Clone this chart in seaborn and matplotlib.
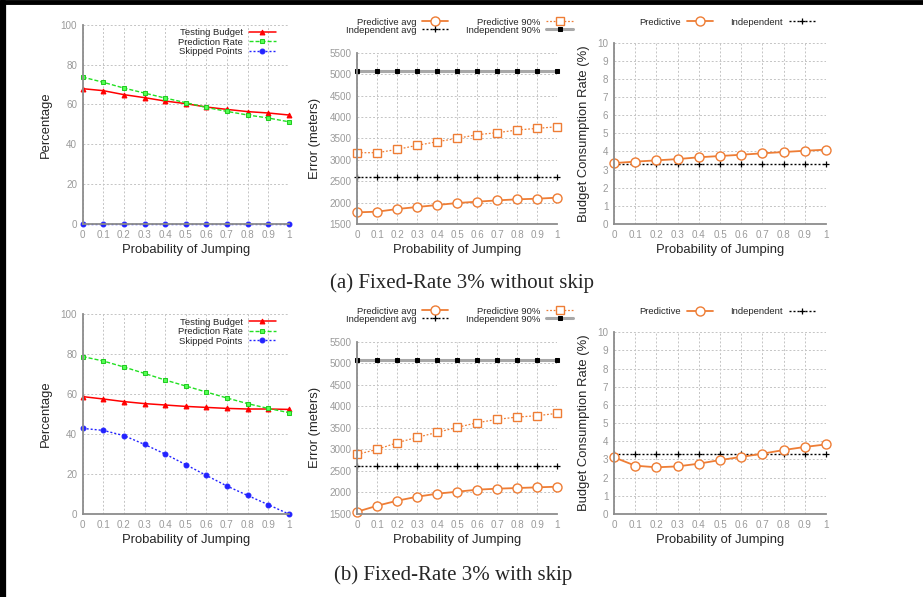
import matplotlib
matplotlib.use('Agg')
import matplotlib.pyplot as plt
import seaborn as sns
from matplotlib.lines import Line2D

sns.set_style('white')
plt.rcParams['font.family'] = ['Liberation Sans', 'DejaVu Sans']

# data
jump = [0, 0.1, 0.2, 0.3, 0.4, 0.5, 0.6, 0.7, 0.8, 0.9, 1]
jump_labels = ['0', '0.1', '0.2', '0.3', '0.4', '0.5', '0.6', '0.7', '0.8', '0.9', '1']

# (a) without skip
a_budget = [67.9, 66.9, 64.9, 63.4, 61.7, 60.4, 58.7, 57.5, 56.4, 55.7, 54.7]
a_pred_rate = [73.7, 71.1, 68.2, 65.7, 63.2, 60.9, 58.5, 56.5, 54.7, 53.2, 51.3]
a_skipped = [0, 0, 0, 0, 0, 0, 0, 0, 0, 0, 0]
a_pred_avg = [1772, 1788, 1850, 1897, 1944, 1990, 2021, 2052, 2076, 2091, 2115]
a_pred_90 = [3165, 3165, 3243, 3337, 3422, 3500, 3586, 3632, 3695, 3733, 3772]
a_ind_avg = [2605] * 11
a_ind_90 = [5070] * 11
a_pred_bcr = [3.36, 3.44, 3.51, 3.58, 3.68, 3.75, 3.82, 3.90, 3.97, 4.04, 4.10]
a_ind_bcr = [3.33] * 11

# (b) with skip
b_budget = [58.7, 57.5, 56.2, 55.2, 54.5, 53.8, 53.3, 52.8, 52.5, 52.5, 52.3]
b_pred_rate = [78.7, 76.5, 73.5, 70.3, 67.0, 64.0, 61.0, 58.0, 55.2, 52.8, 50.7]
b_skipped = [42.8, 41.8, 39.2, 34.8, 30.0, 24.7, 19.3, 14.0, 9.3, 4.7, 0]
b_pred_avg = [1554, 1693, 1809, 1902, 1972, 2018, 2065, 2088, 2103, 2119, 2134]
b_pred_90 = [2885, 3001, 3156, 3280, 3396, 3512, 3620, 3697, 3751, 3782, 3837]
b_ind_avg = [2606] * 11
b_ind_90 = [5065] * 11
b_pred_bcr = [3.12, 2.66, 2.57, 2.62, 2.77, 2.97, 3.14, 3.32, 3.52, 3.69, 3.83]
b_ind_bcr = [3.32] * 11

ORANGE = '#ee7d35'
TICK_GRAY = '#9a9a9a'
DOT = (0, (1.44, 1.44))
W, H = 923, 597


def px_axes(fig, x0, x1, y0, y1):
    return fig.add_axes([x0 / W, 1 - y1 / H, (x1 - x0) / W, (y1 - y0) / H])


def style(ax, ylim, yticks, ylabel, ylabel_pad):
    ax.set_xlim(0, 1)
    ax.set_ylim(*ylim)
    ax.set_xticks(jump)
    ax.set_xticklabels(jump_labels)
    ax.set_yticks(yticks)
    ax.grid(True, ls=(0, (2, 2)), color='#c4c4c4', lw=0.7)
    ax.set_axisbelow(True)
    for s in ['top', 'right']:
        ax.spines[s].set_visible(False)
    for s in ['left', 'bottom']:
        ax.spines[s].set_color('#8c8c8c')
        ax.spines[s].set_linewidth(1.3)
    ax.tick_params(length=0, labelsize=7.1, colors=TICK_GRAY, pad=4)
    ax.set_xlabel('Probability of Jumping', fontsize=9.4, labelpad=3)
    ax.set_ylabel(ylabel, fontsize=9.4, labelpad=ylabel_pad)
    for ln in ax.get_lines():
        ln.set_clip_on(False)


def pct_panel(ax, budget, pred_rate, skipped):
    sns.lineplot(x=jump, y=budget, ax=ax, color='#ff0000', lw=1.1, ls='-',
                 marker='^', ms=3.5, mec='#ff0000', label='Testing Budget')
    sns.lineplot(x=jump, y=pred_rate, ax=ax, color='#22e022', lw=1.0, ls=(0, (2.9, 1.44)),
                 marker='s', ms=3.5, mfc='#55ff55', mec='#22cc22', label='Prediction Rate')
    sns.lineplot(x=jump, y=skipped, ax=ax, color='#2222ff', lw=1.0, ls=DOT,
                 marker='o', ms=3.5, mec='#2222ff', label='Skipped Points')
    style(ax, (0, 100), range(0, 101, 20), 'Percentage', 6)
    ax.legend(loc='upper right', bbox_to_anchor=(0.97, 1.015), frameon=False,
              markerfirst=False, fontsize=6.8, labelspacing=0.05,
              handlelength=2.9, handletextpad=0.6, borderpad=0.2)


def err_panel(ax, pred_avg, pred_90, ind_avg, ind_90, leg_y):
    sns.lineplot(x=jump, y=ind_90, ax=ax, color='#a8a8a8', lw=2.2, ls='-',
                 marker='s', ms=3, mfc='black', mec='black', label='Independent 90%')
    sns.lineplot(x=jump, y=ind_avg, ax=ax, color='black', lw=1.0, ls=DOT,
                 marker='+', ms=4, mew=0.9, mec='black', label='Independent avg')
    sns.lineplot(x=jump, y=pred_90, ax=ax, color=ORANGE, lw=0.9, ls=DOT,
                 marker='s', ms=6, mfc='white', mec=ORANGE, mew=1.0, label='Predictive 90%')
    sns.lineplot(x=jump, y=pred_avg, ax=ax, color=ORANGE, lw=1.3, ls='-',
                 marker='o', ms=6.5, mfc='white', mec=ORANGE, mew=1.0, label='Predictive avg')
    style(ax, (1500, 5500), range(1500, 5501, 500), 'Error (meters)', 6)
    h, l = ax.get_legend_handles_labels()
    order = ['Predictive avg', 'Independent avg', 'Predictive 90%', 'Independent 90%']
    hh = [h[l.index(o)] for o in order]
    ax.legend(hh, order, loc='lower center', bbox_to_anchor=(0.51, leg_y), ncol=2,
              frameon=False, markerfirst=False, fontsize=6.8, labelspacing=-0.1,
              handlelength=2.8, handletextpad=0.6, columnspacing=1.9, borderpad=0.1)


def bcr_panel(ax, pred, ind, leg_y):
    sns.lineplot(x=jump, y=ind, ax=ax, color='black', lw=1.0, ls=DOT,
                 marker='+', ms=4, mew=0.9, mec='black', label='Independent')
    sns.lineplot(x=jump, y=pred, ax=ax, color=ORANGE, lw=1.3, ls='-',
                 marker='o', ms=6.5, mfc='white', mec=ORANGE, mew=1.0, label='Predictive')
    style(ax, (0, 10), range(0, 11), 'Budget Consumption Rate (%)', 5)
    h, l = ax.get_legend_handles_labels()
    ax.legend(h[::-1], l[::-1], loc='lower center', bbox_to_anchor=(0.535, leg_y), ncol=2,
              frameon=False, markerfirst=False, fontsize=6.8,
              handlelength=2.8, handletextpad=0.6, columnspacing=1.8, borderpad=0.1)


fig = plt.figure(figsize=(W / 100, H / 100), dpi=100)

pct_panel(px_axes(fig, 82.7, 288.7, 24.7, 224), a_budget, a_pred_rate, a_skipped)
err_panel(px_axes(fig, 357.3, 557.3, 52.7, 224), a_pred_avg, a_pred_90, a_ind_avg, a_ind_90, 1.072)
bcr_panel(px_axes(fig, 614, 826, 42.7, 224), a_pred_bcr, a_ind_bcr, 1.057)

pct_panel(px_axes(fig, 82.7, 288.7, 314, 514), b_budget, b_pred_rate, b_skipped)
err_panel(px_axes(fig, 357.3, 557.3, 341.7, 514), b_pred_avg, b_pred_90, b_ind_avg, b_ind_90, 1.072)
bcr_panel(px_axes(fig, 614, 826, 332.3, 514), b_pred_bcr, b_ind_bcr, 1.057)

fig.text(462 / W, 1 - 283 / H, '(a) Fixed-Rate 3% without skip', ha='center', va='center',
         fontsize=15, family=['Liberation Serif', 'DejaVu Serif'])
fig.text(453 / W, 1 - 575 / H, '(b) Fixed-Rate 3% with skip', ha='center', va='center',
         fontsize=15, family=['Liberation Serif', 'DejaVu Serif'])

# page frame (left and top edges)
fig.add_artist(Line2D([3 / W, 3 / W], [0, 1 - 2 / H], color='black', lw=4.5,
                      transform=fig.transFigure))
fig.add_artist(Line2D([0, 1], [1 - 2 / H, 1 - 2 / H], color='black', lw=3.5,
                      transform=fig.transFigure))

fig.savefig('out.png', dpi=100)
